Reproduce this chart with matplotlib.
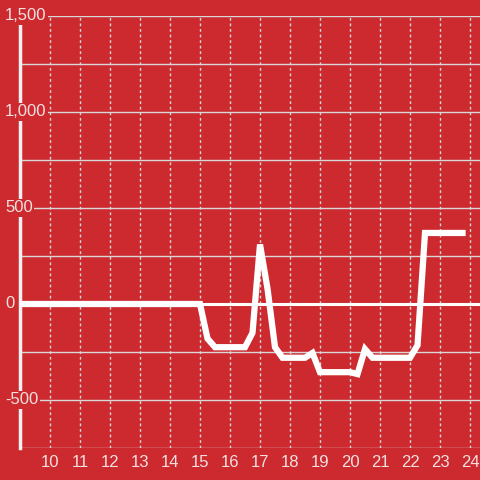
import numpy as np
import matplotlib.pyplot as plt

# hours and values
hours = [9.0, 15.0, 15.25, 15.5, 16.5, 16.75, 17.0, 17.25, 17.5, 17.75, 18.5,
         18.75, 19.0, 20.0, 20.25, 20.5, 20.75, 22.0, 22.25, 22.5, 23.75]
values = [0, 0, -180, -225, -225, -150, 310, 80, -225, -280, -280,
          -255, -355, -355, -365, -235, -280, -280, -215, 370, 370]
x_ticks = list(range(10, 25))
y_ticks = [-500, 0, 500, 1000, 1500]
y_labels = ['-500', '0', '500', '1,000', '1,500']

BG = '#cc2a2f'
GRID = '#d8d8d8'
TXT = '#f3e1e1'

plt.rcParams['font.family'] = ['Liberation Sans', 'DejaVu Sans']

fig = plt.figure(figsize=(4.8, 4.8), dpi=100, facecolor=BG)
ax = fig.add_axes([20 / 480, 32 / 480, 460 / 480, 432 / 480], facecolor=BG)

ax.set_xlim(9.0, 24.333)
ax.set_ylim(-750, 1500)

# horizontal grid every 250, vertical dotted grid every hour
for yv in np.arange(-750, 1501, 250):
    ax.axhline(yv, color=GRID, lw=1.0, zorder=1)
for xv in x_ticks:
    ax.axvline(xv, color=GRID, lw=1.0, ls=(0, (2, 2)), zorder=1)

ax.axhline(0, color='white', lw=2.2, zorder=2)
ax.plot(hours, values, color='white', lw=4.5, zorder=3, solid_joinstyle='miter')

for s in ['top', 'right', 'bottom']:
    ax.spines[s].set_visible(False)
ax.spines['left'].set_color('#f5f0f0')
ax.spines['left'].set_linewidth(2.5)
ax.spines['left'].set_bounds(-750, 1460)
ax.spines['left'].set_zorder(2)

ax.set_xticks(x_ticks)
ax.set_xticklabels([str(t) for t in x_ticks])
ax.tick_params(axis='x', length=0, pad=5, labelsize=12, labelcolor=TXT)
ax.set_yticks([])

# y labels sit at the left edge, over the spine
lab_x = (5 - 20) / 460
for yv, lab in zip(y_ticks, y_labels):
    ax.text(lab_x, yv, lab, transform=ax.get_yaxis_transform(), fontsize=12,
            color=TXT, ha='left', va='center', zorder=5, clip_on=False,
            bbox=dict(boxstyle='square,pad=0.1', fc=BG, ec='none'))

fig.savefig('out.png', dpi=100, facecolor=BG)
